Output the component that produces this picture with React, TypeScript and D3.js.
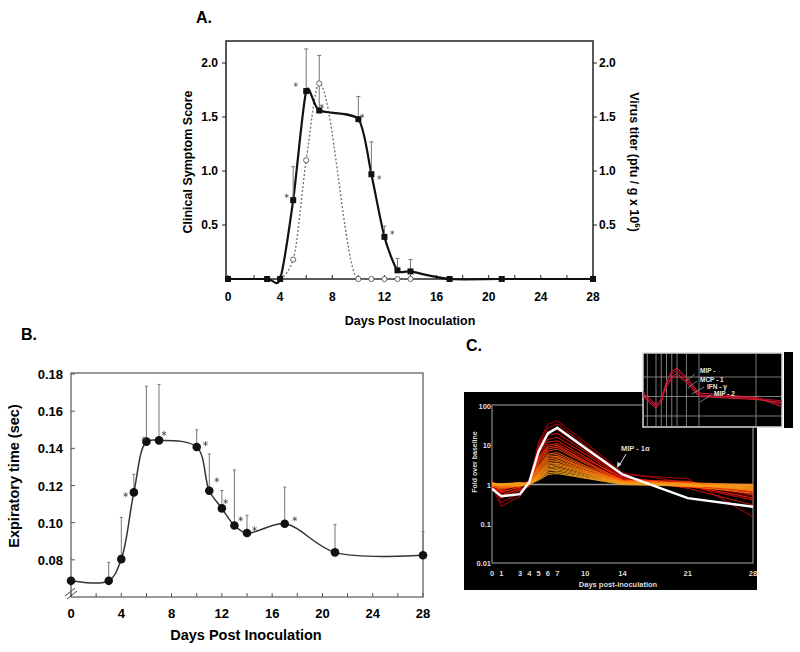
import * as d3 from "d3";
import React from "react";

const FONT = "'Liberation Sans', Arial, Helvetica, sans-serif";

// ---- panel A: clinical score + virus titer
const aDays = [0, 3, 4, 5, 6, 7, 10, 11, 12, 13, 14, 17, 21, 28];
const aScore = [0, 0, 0, 0.73, 1.74, 1.56, 1.48, 0.97, 0.39, 0.08, 0.07, 0, 0, 0];
const aScoreErr = [null, null, null, 1.04, 2.13, 2.07, 1.69, 1.27, 0.49, 0.19, 0.18, null, null, null];
const aVirusDays = [4, 5, 6, 7, 10, 11, 12, 13, 14];
const aVirus = [0, 0.18, 1.1, 1.81, 0, 0, 0, 0, 0];
const aStars = [[4.5, 0.77], [5.2, 1.8], [7.2, 1.6], [10.3, 1.51], [11.6, 0.94], [12.6, 0.43]];
const aXTicks = [0, 4, 8, 12, 16, 20, 24, 28];
const aYTicks = [0.5, 1.0, 1.5, 2.0];

// ---- panel B: expiratory time
const bDays = [0, 3, 4, 5, 6, 7, 10, 11, 12, 13, 14, 17, 21, 28];
const bTime = [0.0687, 0.0687, 0.0804, 0.1163, 0.1436, 0.1443, 0.1407, 0.1172, 0.1077, 0.0985, 0.0944, 0.0994, 0.084, 0.0825];
const bErr = [null, 0.0786, 0.1028, 0.126, 0.1734, 0.1744, 0.15, 0.137, 0.1173, 0.1284, 0.104, 0.1191, 0.0989, 0.0953];
const bStars = [[4.35, 0.115], [5.8, 0.145], [7.4, 0.148], [10.7, 0.1425], [11.6, 0.123], [12.3, 0.1114], [13.5, 0.102], [14.6, 0.0967], [17.8, 0.102]];
const bXTicks = [0, 4, 8, 12, 16, 20, 24, 28];
const bYTicks = [0.08, 0.1, 0.12, 0.14, 0.16, 0.18];

// ---- panel C: fold over baseline (log)
const cDays = [0, 1, 3, 4, 5, 6, 7, 10, 14, 21, 28];
const cSeries = [
  [1.0, 0.35, 0.6, 1.2, 12, 35, 42, 12, 2.0, 1.1, 0.5],
  [0.9, 0.28, 0.5, 1.1, 10, 28, 35, 10, 1.8, 1.4, 0.15],
  [1.1, 0.45, 0.7, 1.0, 9, 22, 25, 8, 1.6, 0.9, 0.4],
  [0.8, 0.5, 0.8, 1.3, 8, 18, 20, 7, 1.5, 1.0, 0.6],
  [1.2, 0.6, 0.9, 1.1, 7, 14, 16, 6, 1.4, 0.8, 0.3],
  [1.0, 0.7, 1.0, 1.2, 6, 12, 13, 5, 1.3, 1.1, 0.7],
  [0.9, 0.55, 0.75, 0.9, 5, 10, 11, 4.5, 1.5, 0.95, 0.45],
  [1.1, 0.8, 0.9, 1.0, 4.5, 9, 10, 4, 1.2, 0.85, 0.8],
  [1.0, 0.65, 0.85, 1.1, 4, 8, 9, 3.8, 1.3, 1.2, 0.55],
  [0.95, 0.75, 0.95, 1.05, 3.5, 7, 8, 3.5, 1.25, 0.9, 0.65],
  [1.0, 0.9, 1.0, 1.1, 3, 6, 6.5, 3, 1.3, 1.0, 0.7],
  [1.1, 0.85, 1.05, 1.0, 2.8, 5.5, 5.8, 2.8, 1.2, 0.95, 0.75],
  [0.9, 0.8, 0.95, 1.1, 2.6, 5, 5.2, 2.6, 1.25, 1.05, 0.85],
  [1.0, 0.95, 1.1, 1.05, 2.4, 4.5, 4.8, 2.5, 1.2, 1.0, 0.9],
  [1.05, 0.9, 1.0, 1.1, 2.2, 4, 4.3, 2.3, 1.15, 0.9, 0.6],
  [0.95, 1.0, 1.05, 1.0, 2.0, 3.6, 3.9, 2.2, 1.2, 1.1, 1.0],
  [1.0, 0.85, 0.9, 1.05, 1.9, 3.3, 3.5, 2.1, 1.1, 0.95, 0.8],
  [1.1, 0.95, 1.0, 1.1, 1.8, 3.0, 3.2, 2.0, 1.15, 1.0, 0.7],
  [0.9, 1.0, 1.1, 1.0, 1.7, 2.8, 3.0, 1.9, 1.1, 1.05, 0.95],
  [1.0, 0.9, 1.0, 1.05, 1.6, 2.6, 2.7, 1.8, 1.1, 0.9, 0.85],
  [1.05, 1.0, 1.05, 1.1, 1.5, 2.4, 2.5, 1.7, 1.05, 1.0, 0.75],
  [0.95, 0.95, 1.0, 1.0, 1.45, 2.2, 2.3, 1.6, 1.1, 0.95, 0.9],
  [1.0, 1.05, 1.1, 1.05, 1.4, 2.0, 2.1, 1.5, 1.05, 1.0, 0.8],
  [1.1, 1.0, 0.95, 1.0, 1.3, 1.8, 1.9, 1.45, 1.0, 0.9, 0.95],
];
const cMip1a = [0.78, 0.5, 0.57, 1.15, 7, 20, 28, 8.5, 1.8, 0.45, 0.27];
const cXTicks = [0, 1, 3, 4, 5, 6, 7, 10, 14, 21, 28];
const cYTicks = [0.01, 0.1, 1, 10, 100];
const cYLabels = ["0.01", "0.1", "1", "10", "100"];
const insetSeries = [
  [1.5, 0.6, 0.25, 0.5, 5, 20, 28, 10, 1.5, 0.9, 0.3],
  [2.0, 0.8, 0.3, 0.8, 6, 15, 22, 8, 1.2, 0.8, 0.4],
  [1.2, 1.0, 0.4, 0.6, 4, 10, 15, 6, 1.0, 0.7, 0.5],
  [1.0, 0.7, 0.35, 0.7, 3, 8, 12, 5, 1.1, 0.8, 0.6],
];
const insetLabels = ["MIP -", "MCP - 1", "IFN - γ", "MIP - 2"];
const insetGridDays = [1, 3, 4, 5, 6, 7, 10, 14, 21];

const star = (size: number) => d3.symbol(d3.symbolAsterisk, size)() ?? "";

function PanelA() {
  const x = d3.scaleLinear().domain([0, 28]).range([228, 593]);
  const y = d3.scaleLinear().domain([0, 2]).range([279, 63]);
  const solid = d3.line<number>().x((d, i) => x(aDays[i])).y(d => y(d)).curve(d3.curveCardinal.tension(0.3));
  const dotted = d3.line<number>().x((d, i) => x(aVirusDays[i])).y(d => y(d)).curve(d3.curveMonotoneX);
  return (
    <g fontFamily={FONT} fontWeight="bold">
      <text x={196} y={23} fontSize={16}>A.</text>
      <rect x={226} y={41} width={367} height={238} fill="none" stroke="#222" strokeWidth={1.5} />
      {d3.range(0, 29, 2).map(d => (
        <line key={d} x1={x(d)} x2={x(d)} y1={279} y2={275} stroke="#222" />
      ))}
      {aXTicks.map(d => (
        <text key={d} x={x(d)} y={301} fontSize={12} textAnchor="middle">{d}</text>
      ))}
      {aYTicks.map(v => (
        <g key={v}>
          <line x1={222} x2={226} y1={y(v)} y2={y(v)} stroke="#222" />
          <line x1={593} x2={597} y1={y(v)} y2={y(v)} stroke="#222" />
          <text x={218} y={y(v) + 4} fontSize={12} textAnchor="end">{v.toFixed(1)}</text>
          <text x={599} y={y(v) + 4} fontSize={12}>{v.toFixed(1)}</text>
        </g>
      ))}
      <text transform="translate(192,162) rotate(-90)" fontSize={12.5} textAnchor="middle">Clinical Symptom Score</text>
      <text transform="translate(630,162) rotate(90)" fontSize={12.5} textAnchor="middle">
        Virus titer (pfu / g x 10<tspan dy={-5} fontSize={8}>6</tspan><tspan dy={5}>)</tspan>
      </text>
      <text x={410} y={325} fontSize={12.5} textAnchor="middle">Days Post Inoculation</text>
      <path d={dotted(aVirus) ?? ""} fill="none" stroke="#777" strokeWidth={1.4} strokeDasharray="2,2" />
      <path d={solid(aScore) ?? ""} fill="none" stroke="#111" strokeWidth={2.2} />
      {aScore.map((v, i) => aScoreErr[i] == null ? null : (
        <g key={i} stroke="#777" strokeWidth={1}>
          <line x1={x(aDays[i])} x2={x(aDays[i])} y1={y(v)} y2={y(aScoreErr[i] as number)} />
          <line x1={x(aDays[i]) - 2} x2={x(aDays[i]) + 2} y1={y(aScoreErr[i] as number)} y2={y(aScoreErr[i] as number)} />
        </g>
      ))}
      {aVirus.map((v, i) => (
        <circle key={i} cx={x(aVirusDays[i])} cy={y(v)} r={2.6} fill="#fff" stroke="#666" strokeWidth={1} />
      ))}
      {aScore.map((v, i) => (
        <rect key={i} x={x(aDays[i]) - 3} y={y(v) - 3} width={6} height={6} fill="#111" />
      ))}
      {aStars.map(([d, v], i) => (
        <path key={i} d={star(14)} transform={`translate(${x(d)},${y(v)})`} stroke="#333" strokeWidth={0.6} fill="#333" />
      ))}
    </g>
  );
}

function PanelB() {
  const x = d3.scaleLinear().domain([0, 28]).range([71, 423]);
  const y = d3.scaleLinear().domain([0.06, 0.18]).range([597, 374]);
  const line = d3.line<number>().x((d, i) => x(bDays[i])).y(d => y(d)).curve(d3.curveCatmullRom.alpha(0.5));
  return (
    <g fontFamily={FONT} fontWeight="bold">
      <text x={21} y={340} fontSize={16}>B.</text>
      <rect x={71} y={373} width={352} height={224} fill="none" stroke="#555" strokeWidth={1.2} />
      {d3.range(0, 29, 2).map(d => (
        <line key={d} x1={x(d)} x2={x(d)} y1={597} y2={593} stroke="#555" />
      ))}
      {bXTicks.map(d => (
        <text key={d} x={x(d)} y={618} fontSize={13} textAnchor="middle">{d}</text>
      ))}
      {bYTicks.map(v => (
        <g key={v}>
          <line x1={71} x2={75} y1={y(v)} y2={y(v)} stroke="#555" />
          <text x={63} y={y(v) + 5} fontSize={13} textAnchor="end">{v.toFixed(2)}</text>
        </g>
      ))}
      <g stroke="#444" strokeWidth={1}>
        <line x1={65} y1={596} x2={75} y2={588} />
        <line x1={67} y1={599} x2={77} y2={591} />
      </g>
      <text transform="translate(19,476) rotate(-90)" fontSize={14.5} textAnchor="middle">Expiratory time (sec)</text>
      <text x={246} y={640} fontSize={14.5} textAnchor="middle">Days Post Inoculation</text>
      {bTime.map((v, i) => bErr[i] == null ? null : (
        <g key={i} stroke="#777" strokeWidth={1}>
          <line x1={x(bDays[i])} x2={x(bDays[i])} y1={y(v)} y2={y(bErr[i] as number)} />
          <line x1={x(bDays[i]) - 1.5} x2={x(bDays[i]) + 1.5} y1={y(bErr[i] as number)} y2={y(bErr[i] as number)} />
        </g>
      ))}
      <path d={line(bTime) ?? ""} fill="none" stroke="#333" strokeWidth={1.5} />
      {bTime.map((v, i) => (
        <circle key={i} cx={x(bDays[i])} cy={y(v)} r={4.3} fill="#111" />
      ))}
      {bStars.map(([d, v], i) => (
        <path key={i} d={star(18)} transform={`translate(${x(d)},${y(v)})`} stroke="#333" strokeWidth={0.7} fill="#333" />
      ))}
    </g>
  );
}

function PanelC() {
  const x = d3.scaleLinear().domain([0, 28]).range([492, 753]);
  const y = d3.scaleLog().domain([0.01, 100]).range([563, 406]);
  const line = d3.line<number>().x((d, i) => x(cDays[i])).y(d => y(d));
  const peak = (s: number[]) => d3.max(s) as number;
  const color = d3.scaleLog<string>().domain([2, 5, 12, 40])
    .range(["#f2a21c", "#ff6a0a", "#f01a0a", "#a8000c"]).clamp(true);
  const order = cSeries.slice().sort((a, b) => peak(b) - peak(a));

  const xi = d3.scaleLinear().domain([0, 3, 7, 14, 21, 28]).range([643, 656, 677, 699, 756, 782]);
  const yi = d3.scaleLog().domain([0.1, 10]).range([416, 377]);
  const iline = d3.line<number>().x((d, i) => xi(cDays[i])).y(d => yi(d));
  const labelPos = [[700, 373, 695, 374, 686, 381], [700, 382, 697, 381, 688, 388], [707, 389, 704, 387, 692, 394], [714, 396, 711, 395, 700, 402]];

  return (
    <g fontFamily={FONT} fontWeight="bold">
      <text x={466} y={351} fontSize={16}>C.</text>
      <rect x={464} y={392} width={293} height={198} fill="#000" />
      <rect x={492} y={405} width={261} height={158} fill="none" stroke="#8a8a8a" strokeWidth={1.2} />
      <line x1={492} x2={753} y1={y(1)} y2={y(1)} stroke="#9a9a9a" strokeWidth={1.6} />
      <g clipPath="url(#clipC)">
        {order.map((s, i) => (
          <path key={i} d={line(s) ?? ""} fill="none" stroke={color(peak(s))} strokeWidth={1.1} opacity={0.9} />
        ))}
        <path d={line(cMip1a) ?? ""} fill="none" stroke="#fff" strokeWidth={2.4} />
      </g>
      {cYTicks.map((v, i) => (
        <text key={v} x={491} y={y(v) + 3} fontSize={7.5} fill="#ddd" textAnchor="end">{cYLabels[i]}</text>
      ))}
      {cXTicks.map(d => (
        <text key={d} x={x(d)} y={576} fontSize={7.5} fill="#ddd" textAnchor="middle">{d}</text>
      ))}
      <text x={618} y={587} fontSize={7.5} fill="#ddd" textAnchor="middle">Days post-inoculation</text>
      <text transform="translate(477,462) rotate(-90)" fontSize={7} fill="#ddd" textAnchor="middle">Fold over baseline</text>
      <text x={621} y={451} fontSize={7.5} fill="#ddd">MIP - 1α</text>
      <line x1={626} y1={454} x2={619} y2={466} stroke="#ddd" strokeWidth={1} />
      <path d="M617,468 L617.5,462 L621.5,464 Z" fill="#ddd" />

      <rect x={643} y={353} width={139} height={74} fill="#000" stroke="#d8d8d8" strokeWidth={1.5} />
      <rect x={784} y={352} width={9} height={76} fill="#000" />
      {[10, 1, 0.1].map(v => (
        <line key={v} x1={643} x2={782} y1={yi(v)} y2={yi(v)} stroke="#9a9a9a" strokeWidth={0.8} />
      ))}
      {insetGridDays.map(d => (
        <line key={d} x1={xi(d)} x2={xi(d)} y1={353} y2={427} stroke="#9a9a9a" strokeWidth={0.8} />
      ))}
      <g clipPath="url(#clipI)">
        {insetSeries.map((s, i) => (
          <path key={i} d={iline(s) ?? ""} fill="none" stroke={i % 2 ? "#c0102a" : "#e0203a"} strokeWidth={1} />
        ))}
      </g>
      {insetLabels.map((t, i) => (
        <g key={t}>
          <line x1={labelPos[i][2]} y1={labelPos[i][3]} x2={labelPos[i][4]} y2={labelPos[i][5]} stroke="#aaa" strokeWidth={0.7} />
          <text x={labelPos[i][0]} y={labelPos[i][1]} fontSize={6.5} fill="#e8e8e8">{t}</text>
        </g>
      ))}
      <defs>
        <clipPath id="clipC"><rect x={492} y={405} width={261} height={158} /></clipPath>
        <clipPath id="clipI"><rect x={643} y={353} width={139} height={74} /></clipPath>
      </defs>
    </g>
  );
}

export default function App() {
  return (
    <svg width={800} height={652} style={{ position: "absolute", left: 0, top: 0, background: "#fff" }}>
      <PanelA />
      <PanelB />
      <PanelC />
    </svg>
  );
}
